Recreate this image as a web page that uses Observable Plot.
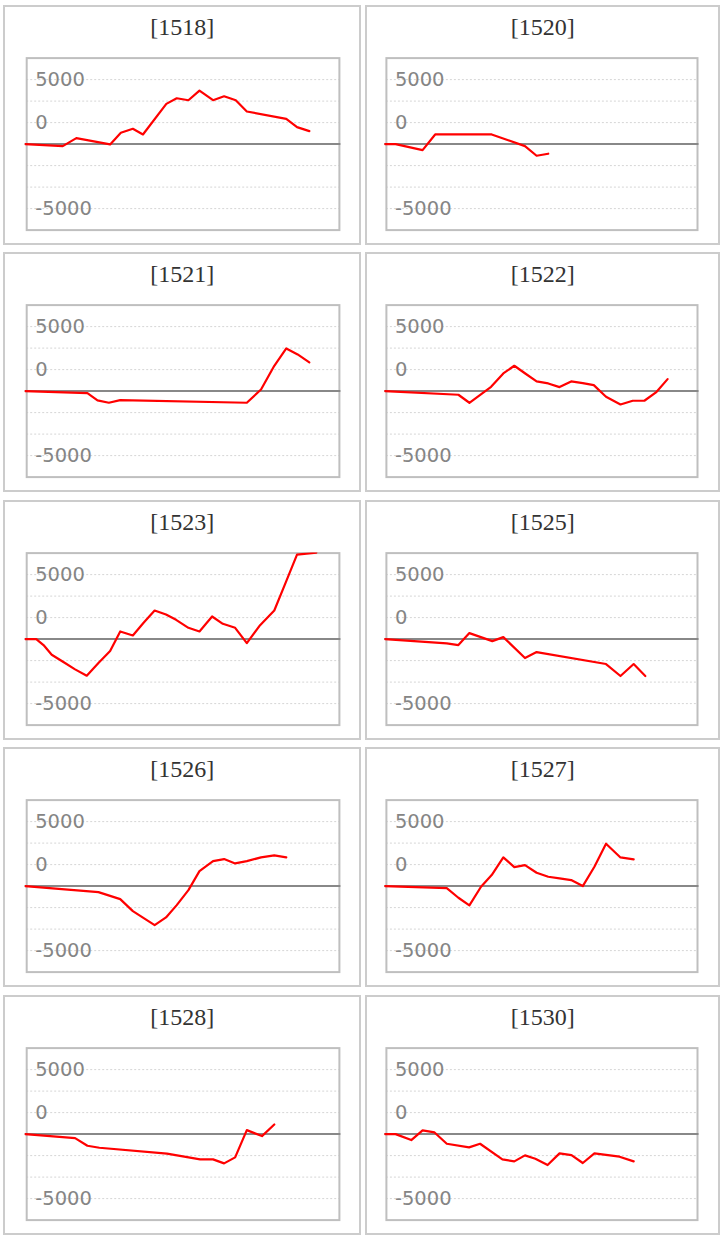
<!DOCTYPE html>
<html><head><meta charset="utf-8">
<script src="https://cdn.jsdelivr.net/npm/d3@7"></script>
<script src="https://cdn.jsdelivr.net/npm/@observablehq/plot@0.6"></script>
<style>
html,body{margin:0;padding:0;background:#fff;}
#grid{display:grid;grid-template-columns:358px 355px;column-gap:4px;row-gap:7.5px;padding:4.5px 0 0 3.3px;}
.panel{position:relative;border:2px solid #ccc;height:236px;background:#fff;}
.title{position:absolute;left:0;right:0;top:7px;text-align:center;font-family:"Liberation Serif";font-size:24px;line-height:26px;color:#333;}
.panel svg{position:absolute;left:0;top:0;}
</style></head><body><div id="grid"></div>
<script>
// panel ids (titles)
const panelIds = ["1518","1520","1521","1522","1523","1525","1526","1527","1528","1530"];

// y axis ticks and gridlines
const yTickValues = [5000, 1666.67, -5000];
const yTickLabels = ["5000", "0", "-5000"];
const gridValues = [5000, 3333.33, 1666.67, -1666.67, -3333.33, -5000];
const yDomain = [-6666.67, 6666.67];
const xDomain = [0, 100];

// series: step positions and values
const steps_1518 = [0, 11.9, 16.2, 26.9, 30.3, 34.1, 37.3, 44.7, 48.0, 51.7, 55.2, 59.5, 63.0, 66.7, 70.2, 82.7, 86.1, 90.0];
const values_1518 = [0, -155, 464, -26, 876, 1185, 747, 3118, 3556, 3402, 4149, 3402, 3711, 3402, 2526, 1959, 1314, 1005];

const steps_1520 = [0, 3.4, 12.0, 16.0, 34.0, 44.6, 48.3, 52.0];
const values_1520 = [0, 0, -464, 747, 747, -155, -902, -747];

const steps_1521 = [0, 19.7, 22.9, 26.5, 30.1, 70.2, 74.7, 78.9, 82.7, 86.3, 90.0];
const values_1521 = [0, -155, -724, -904, -698, -904, 129, 1964, 3308, 2842, 2222];

const steps_1522 = [0, 23.4, 26.9, 33.8, 37.7, 41.2, 44.8, 48.3, 52.0, 55.6, 59.3, 63.0, 66.5, 70.4, 75.0, 78.9, 82.6, 86.3, 90.0];
const values_1522 = [0, -284, -904, 336, 1370, 1964, 1344, 749, 594, 310, 749, 620, 465, -439, -1034, -749, -749, -103, 930];

const steps_1523 = [0, 3.5, 5.8, 8.4, 12.1, 15.8, 19.5, 23.2, 26.9, 30.1, 34.1, 37.5, 41.0, 44.6, 47.8, 51.7, 55.2, 59.2, 62.6, 66.5, 70.2, 74.4, 78.9, 82.6, 86.1, 92.2];
const values_1523 = [0, 0, -464, -1211, -1778, -2345, -2834, -1855, -928, 593, 284, 1263, 2216, 1907, 1495, 876, 593, 1752, 1185, 876, -309, 1082, 2216, 4432, 6546, 6700];

const steps_1525 = [0, 19.7, 23.4, 26.9, 34.2, 37.7, 44.6, 48.3, 70.4, 75.0, 79.2, 82.9];
const values_1525 = [0, -335, -464, 464, -155, 155, -1469, -1005, -1933, -2860, -1933, -2860];

const steps_1526 = [0, 23.2, 30.1, 34.1, 41.0, 44.6, 48.0, 51.7, 55.2, 59.5, 63.0, 66.5, 70.2, 74.7, 78.9, 82.7];
const values_1526 = [0, -465, -1008, -1938, -3023, -2429, -1473, -310, 1163, 1938, 2093, 1757, 1938, 2222, 2377, 2222];

const steps_1527 = [0, 19.7, 23.4, 26.9, 30.6, 34.0, 37.7, 41.2, 44.6, 48.3, 52.0, 55.6, 59.3, 63.0, 66.7, 70.4, 75.0, 79.2];
const values_1527 = [0, -155, -904, -1499, -52, 853, 2222, 1473, 1628, 1034, 724, 594, 465, 0, 1499, 3282, 2222, 2067];

const steps_1528 = [0, 15.8, 19.7, 23.5, 44.9, 55.4, 59.5, 63.0, 66.5, 70.2, 75.0, 78.9];
const values_1528 = [0, -309, -902, -1057, -1520, -1958, -1958, -2268, -1804, 309, -155, 747];

const steps_1530 = [0, 3.4, 8.4, 12.0, 15.8, 19.7, 26.8, 30.3, 37.4, 41.2, 44.6, 47.9, 51.8, 55.6, 59.4, 63.0, 66.7, 74.7, 79.2];
const values_1530 = [0, 0, -464, 283, 129, -747, -1031, -747, -1958, -2113, -1649, -1907, -2397, -1495, -1624, -2242, -1495, -1752, -2113];

const seriesSteps = [steps_1518, steps_1520, steps_1521, steps_1522, steps_1523, steps_1525, steps_1526, steps_1527, steps_1528, steps_1530];
const seriesValues = [values_1518, values_1520, values_1521, values_1522, values_1523, values_1525, values_1526, values_1527, values_1528, values_1530];

function chart(k) {
  const col = k % 2;
  const data = seriesSteps[k].map((x, i) => ({x, y: seriesValues[k][i]}));
  const W = col === 0 ? 354 : 351;
  const ml = col === 0 ? 19.7 : 17.4;
  const mr = col === 0 ? 18.6 : 19.5;
  return Plot.plot({
    width: W, height: 236,
    marginTop: 50.6, marginBottom: 13.4, marginLeft: ml, marginRight: mr,
    x: {domain: xDomain, axis: null},
    y: {domain: yDomain, axis: null},
    style: {fontFamily: "DejaVu Sans", background: "transparent", overflow: "visible"},
    marks: [
      Plot.ruleY(gridValues, {stroke: "#d6d6d6", strokeWidth: 1, strokeDasharray: "2,2", insetLeft: 1.5, insetRight: 1.5}),
      Plot.frame({stroke: "#bfbfbf", strokeWidth: 2, insetLeft: 1.5, insetRight: 1.5}),
      Plot.ruleY([0], {stroke: "#888", strokeWidth: 2}),
      Plot.text(yTickValues, {y: d => d, text: (d, i) => yTickLabels[i], frameAnchor: "left", textAnchor: "start", dx: 10, fontSize: 19.5, fill: "#858585"}),
      Plot.line(data, {x: "x", y: "y", stroke: "#ff0000", strokeWidth: 2.2, clip: "frame"})
    ]
  });
}

const grid = document.getElementById("grid");
panelIds.forEach((id, k) => {
  const p = document.createElement("div");
  p.className = "panel";
  const t = document.createElement("div");
  t.className = "title";
  t.textContent = "[" + id + "]";
  p.appendChild(chart(k));
  p.appendChild(t);
  grid.appendChild(p);
});
</script></body></html>
